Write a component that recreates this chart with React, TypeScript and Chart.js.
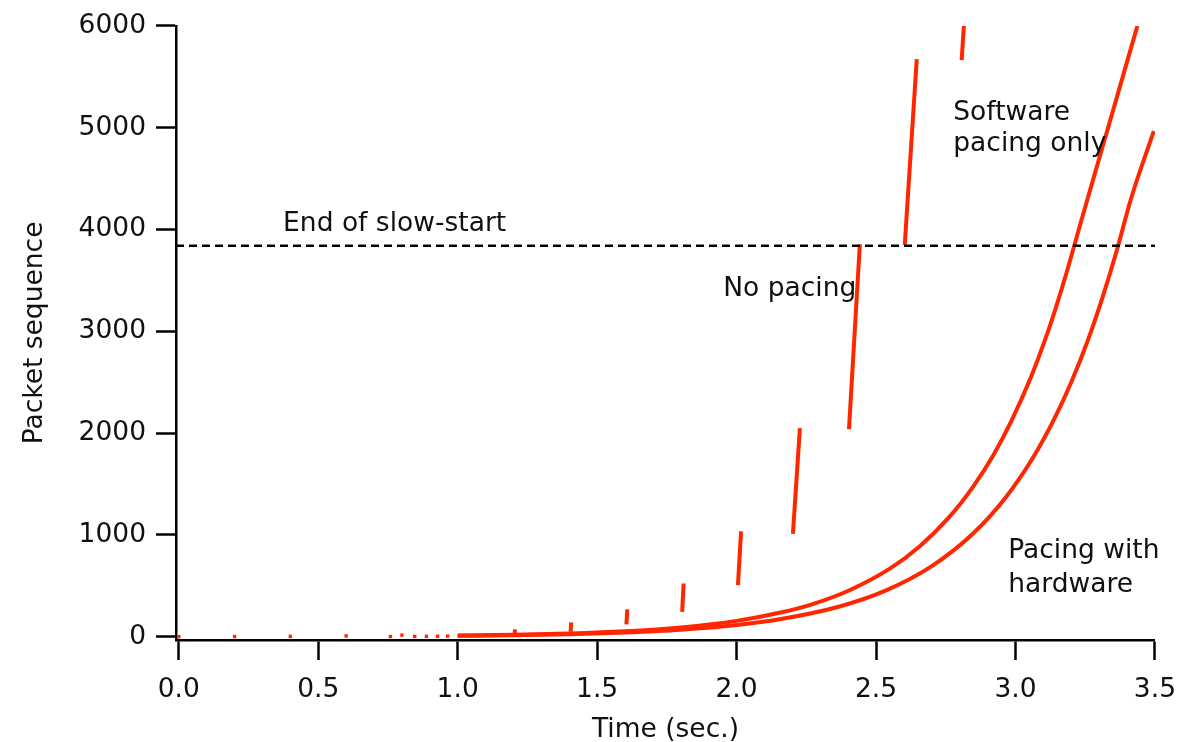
import React, { useEffect, useRef } from 'react';
import { Chart, registerables } from 'chart.js';

Chart.register(...registerables);

const RED = 'rgb(255,38,0)';

// Axis ticks
const xTicks = [0, 0.5, 1.0, 1.5, 2.0, 2.5, 3.0, 3.5];
const yTicks = [0, 1000, 2000, 3000, 4000, 5000, 6000];

// End of slow-start level (packet sequence)
const slowStartLevel = 3840;

// "No pacing": line-rate bursts each RTT (start time, end time, start seq, end seq)
const burstT0 = [1.204, 1.405, 1.605, 1.805, 2.005, 2.202, 2.403, 2.603, 2.807];
const burstT1 = [1.206, 1.407, 1.608, 1.81, 2.016, 2.227, 2.442, 2.646, 2.815];
const burstY0 = [36, 49, 121, 245, 507, 1010, 2040, 3848, 5663];
const burstY1 = [72, 141, 268, 523, 1036, 2050, 3855, 5673, 6000];

// Tiny early packets (isolated dots)
const dotT = [0.0, 0.2, 0.4, 0.6, 0.759, 0.8, 0.846, 0.888, 0.928, 0.964];
const dotY = [1, 2, 4, 8, 2, 16, 3, 4, 5, 6];

// "Software pacing only"
const swT = [1.0, 1.2, 1.4, 1.6, 1.8, 2.0, 2.154, 2.273, 2.405, 2.548, 2.656, 2.763, 2.847, 2.919, 2.985, 3.056, 3.116, 3.146, 3.182, 3.24, 3.276, 3.312, 3.348, 3.384, 3.437];
const swY = [11, 19, 32, 54, 92, 156, 235, 321, 457, 666, 887, 1177, 1470, 1775, 2117, 2553, 2994, 3243, 3565, 4126, 4468, 4810, 5152, 5494, 6000];

// "Pacing with hardware"
const hwT = [1.0, 1.2, 1.4, 1.6, 1.8, 2.0, 2.154, 2.369, 2.536, 2.704, 2.847, 2.967, 3.062, 3.14, 3.2, 3.259, 3.313, 3.363, 3.414, 3.496];
const hwY = [9, 15, 25, 42, 69, 115, 171, 297, 455, 701, 1011, 1376, 1755, 2144, 2500, 2908, 3341, 3791, 4300, 4967];

// Text notes (anchored in data units, left / baseline)
const noteText = ['End of slow-start', 'No pacing', 'Software', 'pacing only', 'Pacing with', 'hardware'];
const noteX = [0.374, 1.952, 2.777, 2.777, 2.974, 2.974];
const noteY = [3987, 3350, 5075, 4772, 769, 441];

const FONT = '"DejaVu Sans", "Liberation Sans", sans-serif';

const notesPlugin = {
  id: 'notes',
  afterDatasetsDraw(chart: any) {
    const { ctx, scales } = chart;
    const x = scales.x;
    const y = scales.y;
    ctx.save();
    ctx.font = `26.5px ${FONT}`;
    ctx.fillStyle = '#111';
    ctx.textAlign = 'left';
    ctx.textBaseline = 'alphabetic';
    noteText.forEach((t, i) => {
      ctx.fillText(t, x.getPixelForValue(noteX[i]), y.getPixelForValue(noteY[i]));
    });
    ctx.restore();
  },
};

export default function App() {
  const ref = useRef<HTMLCanvasElement | null>(null);

  useEffect(() => {
    if (!ref.current) return;
    const burstData: any[] = [];
    burstT0.forEach((t, i) => {
      burstData.push({ x: t, y: burstY0[i] });
      burstData.push({ x: burstT1[i], y: burstY1[i] });
      burstData.push({ x: burstT1[i] + 0.001, y: null });
    });
    const chart = new Chart(ref.current, {
      type: 'scatter',
      data: {
        datasets: [
          {
            data: [
              { x: -0.01, y: slowStartLevel },
              { x: 3.5, y: slowStartLevel },
            ],
            showLine: true,
            borderColor: '#000',
            borderWidth: 2.5,
            borderDash: [8, 5],
            pointRadius: 0,
          },
          {
            data: dotT.map((t, i) => ({ x: t, y: dotY[i] })),
            showLine: false,
            pointStyle: 'rect',
            pointRadius: 2.4,
            backgroundColor: RED,
            borderWidth: 0,
          },
          {
            data: burstData,
            showLine: true,
            spanGaps: false,
            borderColor: RED,
            borderWidth: 4,
            pointRadius: 0,
          },
          {
            data: swT.map((t, i) => ({ x: t, y: swY[i] })),
            showLine: true,
            borderColor: RED,
            borderWidth: 4,
            pointRadius: 0,
            cubicInterpolationMode: 'monotone',
          },
          {
            data: hwT.map((t, i) => ({ x: t, y: hwY[i] })),
            showLine: true,
            borderColor: RED,
            borderWidth: 4,
            pointRadius: 0,
            cubicInterpolationMode: 'monotone',
          },
        ],
      } as any,
      options: {
        animation: false,
        responsive: true,
        maintainAspectRatio: false,
        layout: { padding: { top: 24.7, right: 35, left: 0, bottom: 0 } },
        plugins: {
          legend: { display: false },
          tooltip: { enabled: false },
        },
        scales: {
          x: {
            type: 'linear',
            min: -0.01,
            max: 3.5,
            afterBuildTicks: (s: any) => {
              s.ticks = xTicks.map((v) => ({ value: v }));
            },
            afterFit: (s: any) => {
              s.height = 102;
            },
            grid: {
              drawOnChartArea: false,
              drawTicks: true,
              tickLength: 20,
              tickWidth: 2.5,
              tickColor: '#000',
            },
            border: { display: true, color: '#000', width: 2.5 },
            ticks: {
              color: '#111',
              font: { family: FONT, size: 26.5 },
              padding: 14,
              maxRotation: 0,
              callback: (v: any) => Number(v).toFixed(1),
            },
            title: {
              display: true,
              text: 'Time (sec.)',
              color: '#111',
              font: { family: FONT, size: 26.5 },
              padding: { top: 0, bottom: -4 },
            },
          },
          y: {
            type: 'linear',
            min: -32,
            max: 6000,
            afterBuildTicks: (s: any) => {
              s.ticks = yTicks.map((v) => ({ value: v }));
            },
            afterFit: (s: any) => {
              s.width = 176;
            },
            grid: {
              drawOnChartArea: false,
              drawTicks: true,
              tickLength: 20,
              tickWidth: 2.5,
              tickColor: '#000',
            },
            border: { display: true, color: '#000', width: 2.5 },
            ticks: {
              color: '#111',
              font: { family: FONT, size: 26.5 },
              padding: 10,
              callback: (v: any) => String(v),
            },
            title: {
              display: true,
              text: 'Packet sequence',
              color: '#111',
              font: { family: FONT, size: 26.5 },
              padding: { top: 19, bottom: 0 },
            },
          },
        },
      } as any,
      plugins: [notesPlugin],
    });
    return () => chart.destroy();
  }, []);

  return (
    <div style={{ position: 'fixed', left: 0, top: 0, width: 1190, height: 742, background: '#fff' }}>
      <canvas ref={ref} />
    </div>
  );
}
